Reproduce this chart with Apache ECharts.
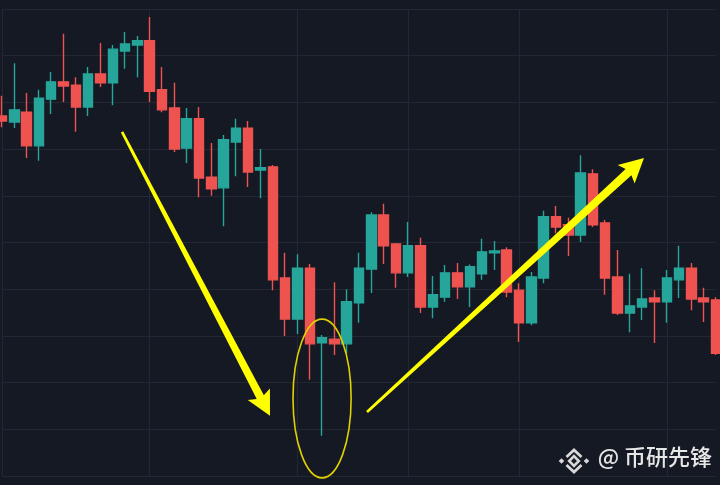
<!DOCTYPE html>
<html>
<head>
<meta charset="utf-8">
<script src="https://cdn.jsdelivr.net/npm/echarts@6/dist/echarts.min.js"></script>
<style>
  html, body { margin: 0; padding: 0; background: #151924; }
  #chart { width: 720px; height: 485px; }
</style>
</head>
<body>
<div id="chart"></div>
<script>
// ---- Data ----
var opens  = [177.1,175.8,177.9,170.7,180.7,184.4,183.7,179.0,186.1,184.2,191.0,192.3,193.2,182.7,178.8,170.2,176.5,164.0,161.7,171.5,174.5,165.5,166.2,142.4,133.6,144.5,128.5,129.3,128.3,137.1,144.3,155.9,149.7,143.5,149.3,136.2,138.3,143.5,140.5,143.3,147.8,148.4,139.8,132.8,142.4,155.5,153.8,151.6,164.7,154.2,142.6,134.9,136.2,138.1,137.3,142.0,144.5,138.1,137.7];
var closes = [176.0,178.4,170.7,180.9,184.4,183.5,179.0,186.1,184.2,191.4,192.5,193.2,182.4,178.4,170.0,176.5,163.8,161.5,172.0,174.5,165.1,166.0,142.0,133.6,144.5,128.3,129.6,128.3,137.3,144.5,155.9,149.3,143.5,149.3,136.2,138.8,143.5,140.5,144.8,148.0,148.2,139.4,132.8,142.6,155.5,153.3,151.6,164.9,153.8,142.4,134.9,136.4,137.9,137.3,142.4,144.5,137.9,137.3,126.3];
var lows   = [174.7,174.5,168.1,167.5,177.5,180.1,173.7,177.1,183.3,179.4,187.2,185.4,180.1,177.9,169.4,167.0,159.7,160.0,153.5,164.2,161.9,159.5,139.8,130.0,130.4,120.6,108.6,125.9,126.3,132.8,139.2,145.4,140.3,142.6,134.9,133.8,137.3,137.9,136.2,142.0,144.1,138.3,128.7,132.3,141.3,152.0,147.1,150.1,153.3,138.8,134.5,130.8,133.4,128.5,132.8,138.1,135.5,133.0,125.9];
var highs  = [181.4,188.4,182.0,182.7,186.5,194.7,185.4,187.6,192.7,192.3,195.1,194.2,198.3,187.6,184.2,178.8,179.0,171.3,173.0,176.5,176.0,170.0,166.6,147.8,147.5,145.4,130.2,141.5,140.0,147.8,156.5,158.3,149.9,154.4,151.0,142.8,145.2,145.6,145.3,150.8,150.3,149.0,141.3,143.7,156.8,157.8,155.3,168.7,165.7,154.8,148.4,143.3,144.5,139.8,144.1,149.3,145.6,140.3,138.3];
var categories = opens.map(function (_, i) { return 'K' + (i + 1); });
var timeLineIdx = [0, 12, 24, 33, 42, 54];
var yTicks = { min: 100, max: 200, interval: 10 };

// Annotations in data coordinates [candle index, price]
var arrowDown = { from: [9.75, 173.7], to: [21.77, 112.9] };
var arrowUp   = { from: [29.65, 113.7], to: [52.15, 168.1] };
var ellipseAnno = { center: [26.0, 116.6], rx: 2.36, ry: 17.0 };
var watermark = '@ 币研先锋';

var candleData = opens.map(function (o, i) { return [o, closes[i], lows[i], highs[i]]; });

var chart = echarts.init(document.getElementById('chart'), null, { renderer: 'canvas' });
var BG = '#151924', GRIDC = '#232733', UP = '#26a69a', DOWN = '#ef5350', YEL = '#ffff00';

chart.setOption({
  backgroundColor: BG,
  animation: false,
  grid: { left: 2, right: 4, top: 9, bottom: 9, containLabel: false },
  xAxis: [{
    type: 'category', data: categories, boundaryGap: false,
    axisLine: { show: false }, axisTick: { show: false }, axisLabel: { show: false },
    splitLine: { show: true, interval: function (i) { return timeLineIdx.indexOf(i) >= 0; },
      lineStyle: { color: GRIDC, width: 1.2 } }
  }, {
    type: 'value', min: 0, max: opens.length - 1, show: false,
    splitLine: { show: false }
  }],
  yAxis: {
    type: 'value', min: yTicks.min, max: yTicks.max, interval: yTicks.interval,
    axisLine: { show: false }, axisTick: { show: false }, axisLabel: { show: false },
    splitLine: { show: true, lineStyle: { color: GRIDC, width: 1.2 } }
  },
  series: [{
    type: 'candlestick', data: candleData, barWidth: 10, clip: false,
    itemStyle: { color: UP, color0: DOWN, borderColor: UP, borderColor0: DOWN, borderWidth: 1.4 }
  }]
});

function px(p) {
  return [chart.convertToPixel({ xAxisIndex: 1 }, p[0]), chart.convertToPixel({ yAxisIndex: 0 }, p[1])];
}
function arrowPoly(a, w0, w1, hl, hw) {
  var S = px(a.from), T = px(a.to);
  var dx = T[0] - S[0], dy = T[1] - S[1], L = Math.sqrt(dx * dx + dy * dy);
  var ux = dx / L, uy = dy / L, nx = -uy, ny = ux;
  var B = [T[0] - ux * hl, T[1] - uy * hl];
  var Bb = [T[0] - ux * hl * 1.15, T[1] - uy * hl * 1.15];
  return [
    [S[0] + nx * w0, S[1] + ny * w0],
    [B[0] + nx * w1, B[1] + ny * w1],
    [Bb[0] + nx * hw, Bb[1] + ny * hw],
    T,
    [Bb[0] - nx * hw, Bb[1] - ny * hw],
    [B[0] - nx * w1, B[1] - ny * w1],
    [S[0] - nx * w0, S[1] - ny * w0]
  ];
}
var C = px(ellipseAnno.center);
var rxPx = Math.abs(px([ellipseAnno.center[0] + ellipseAnno.rx, 0])[0] - C[0]);
var ryPx = Math.abs(px([0, ellipseAnno.center[1] + ellipseAnno.ry])[1] - C[1]);

// Binance-like logo
var lx = 574, ly = 461;
function dia(cx, cy, r) { return [[cx, cy - r], [cx + r, cy], [cx, cy + r], [cx - r, cy]]; }

chart.setOption({
  graphic: [
    { type: 'polygon', shape: { points: arrowPoly(arrowDown, 1.3, 4.0, 21, 12.5) }, style: { fill: YEL }, z: 100 },
    { type: 'polygon', shape: { points: arrowPoly(arrowUp, 1.3, 4.3, 21, 12.5) }, style: { fill: YEL }, z: 100 },
    { type: 'ellipse', shape: { cx: C[0], cy: C[1], rx: rxPx, ry: ryPx },
      style: { fill: 'none', stroke: '#e0d000', lineWidth: 1.6 }, z: 100 },
    { type: 'polygon', shape: { points: dia(lx - 12.5, ly, 2.8) }, style: { fill: '#d8d8d8' }, z: 100 },
    { type: 'polygon', shape: { points: dia(lx + 12.5, ly, 2.8) }, style: { fill: '#d8d8d8' }, z: 100 },
    { type: 'polygon', shape: { points: dia(lx, ly, 4.8) }, style: { fill: 'none', stroke: '#d8d8d8', lineWidth: 2.6 }, z: 100 },
    { type: 'polyline', shape: { points: [[lx - 7.5, ly - 4], [lx, ly - 11], [lx + 7.5, ly - 4]] }, style: { fill: 'none', stroke: '#d8d8d8', lineWidth: 2.8 }, z: 100 },
    { type: 'polyline', shape: { points: [[lx - 7.5, ly + 4], [lx, ly + 11], [lx + 7.5, ly + 4]] }, style: { fill: 'none', stroke: '#d8d8d8', lineWidth: 2.8 }, z: 100 },
    { type: 'text', right: 8, top: 446, style: { text: watermark, fill: '#e6e6e6',
      font: '500 22px "Noto Sans CJK SC", "Noto Sans", sans-serif' }, z: 100 }
  ]
});
</script>
</body>
</html>
